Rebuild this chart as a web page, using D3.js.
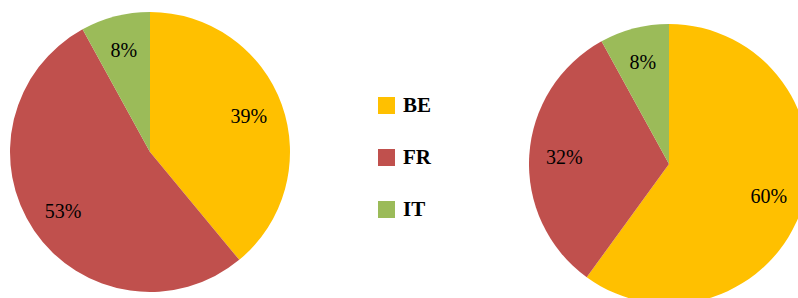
<!DOCTYPE html>
<html>
<head>
<meta charset="utf-8">
<script src="https://cdn.jsdelivr.net/npm/d3@7"></script>
<style>
  body { margin: 0; background: #fff; overflow: hidden; }
</style>
</head>
<body>
<div class="chart"></div>
<script>
// countries and share of each, one array per pie
var countries = ["BE", "FR", "IT"];
var leftValues = [39, 53, 8];
var rightValues = [60, 32, 8];
var colors = ["#FFC000", "#C0504D", "#9BBB59"];

var svgWidth = 798;
var svgHeight = 298;
var radius = 140;
var serif = "'Liberation Serif', 'DejaVu Serif', serif";

var svg = d3.select(".chart")
  .append("svg")
  .attr("width", svgWidth)
  .attr("height", svgHeight)
  .style("font-family", serif);

var color = d3.scaleOrdinal().domain(countries).range(colors);

// pies start at 12 o'clock and go clockwise, no sorting
var pie = d3.pie().sort(null).value(d => d.value);
var arc = d3.arc().innerRadius(0).outerRadius(radius);
var labelArc = d3.arc().innerRadius(radius * 0.75).outerRadius(radius * 0.75);

function drawPie(values, cx, cy) {
  var data = countries.map((c, i) => ({ country: c, value: values[i] }));
  var g = svg.append("g")
    .attr("transform", `translate(${cx}, ${cy})`);

  var slices = g.selectAll("g.slice")
    .data(pie(data))
    .enter()
    .append("g")
    .attr("class", "slice");

  slices.append("path")
    .attr("d", arc)
    .attr("fill", d => color(d.data.country));

  slices.append("text")
    .attr("transform", d => `translate(${labelArc.centroid(d)})`)
    .attr("text-anchor", "middle")
    .attr("dy", "0.35em")
    .style("font-family", serif)
    .attr("font-size", "20px")
    .attr("fill", "#000")
    .text(d => d.data.value + "%");
}

drawPie(leftValues, 150, 152);
drawPie(rightValues, 669, 164);

// legend in the middle
var legend = svg.append("g")
  .attr("transform", "translate(378, 97)");

var items = legend.selectAll("g")
  .data(countries)
  .enter()
  .append("g")
  .attr("transform", (d, i) => `translate(0, ${i * 52})`);

items.append("rect")
  .attr("width", 17)
  .attr("height", 17)
  .attr("fill", d => color(d));

items.append("text")
  .attr("x", 25)
  .attr("y", 15)
  .style("font-family", serif)
  .attr("font-size", "21px")
  .attr("font-weight", "bold")
  .attr("fill", "#000")
  .text(d => d);
</script>
</body>
</html>
